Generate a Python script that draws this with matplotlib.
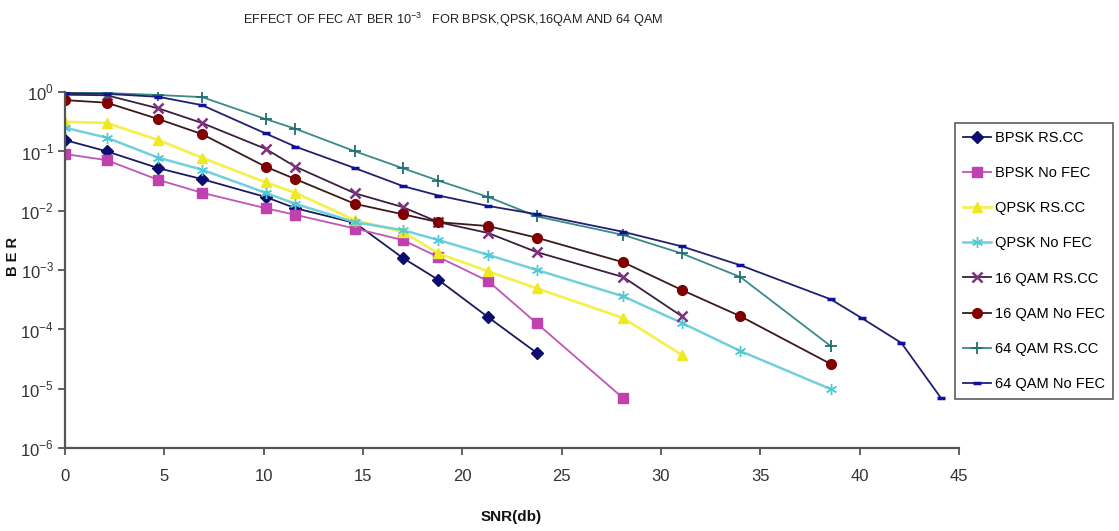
import math
import matplotlib
matplotlib.use('Agg')
import matplotlib.pyplot as plt
from matplotlib.ticker import FixedLocator, NullLocator, FuncFormatter

# ---------------- data ----------------
snr = [0, 2.1, 4.7, 6.9, 10.1, 11.6, 14.6, 17.0, 18.8, 21.3, 23.75,
       28.1, 31.05, 34.0, 38.55, 40.1, 42.1, 44.1]

bpsk_rscc = [0.155, 0.10, 0.052, 0.034, 0.017, 0.011, 0.0062, 0.0016,
             0.00068, 0.00016, 4.0e-5]
bpsk_nofec = [0.09, 0.071, 0.033, 0.020, 0.011, 0.0085, 0.005, 0.0032,
              0.00165, 0.00065, 0.000126, 6.9e-6]
qpsk_rscc = [0.315, 0.30, 0.155, 0.078, 0.030, 0.020, 0.0069, 0.0044,
             0.0019, 0.00095, 0.00049, 0.000155, 3.7e-5]
qpsk_nofec = [0.25, 0.17, 0.078, 0.049, 0.020, 0.013, 0.0064, 0.0047,
              0.0032, 0.0018, 0.0010, 0.00036, 0.000128, 4.3e-5, 9.8e-6]
qam16_rscc = [0.90, 0.88, 0.53, 0.30, 0.11, 0.055, 0.0196, 0.0115,
              0.0064, 0.0042, 0.0020, 0.00076, 0.000166]
qam16_nofec = [0.73, 0.66, 0.35, 0.195, 0.055, 0.034, 0.013, 0.0087,
               0.0064, 0.0055, 0.0035, 0.00135, 0.00046, 0.000166, 2.6e-5]
qam64_rscc = [0.97, 0.96, 0.89, 0.82, 0.35, 0.24, 0.10, 0.052, 0.032,
              0.017, 0.0080, 0.0039, 0.0019, 0.00076, 5.2e-5]
qam64_nofec = [0.95, 0.93, 0.83, 0.60, 0.20, 0.12, 0.052, 0.026, 0.018,
               0.012, 0.0087, 0.0044, 0.0025, 0.0012, 0.00032, 0.000155,
               5.9e-5, 6.9e-6]

labels = ['BPSK RS.CC', 'BPSK No FEC', 'QPSK RS.CC', 'QPSK No FEC',
          '16 QAM RS.CC', '16 QAM No FEC', '64 QAM RS.CC', '64 QAM No FEC']
x_ticks = [0, 5, 10, 15, 20, 25, 30, 35, 40, 45]
y_exps = [0, -1, -2, -3, -4, -5, -6]

series = [bpsk_rscc, bpsk_nofec, qpsk_rscc, qpsk_nofec,
          qam16_rscc, qam16_nofec, qam64_rscc, qam64_nofec]

styles = [
    dict(color='#1a1a5e', marker='D', ms=6, mfc='#0d0d70', mec='#0d0d70'),
    dict(color='#c055b5', marker='s', ms=6.5, mfc='#c040b0', mec='#c040b0'),
    dict(color='#f5f050', marker='^', ms=7, mfc='#f0e820', mec='#f0e820', lw=2.0),
    dict(color='#70d0dc', marker=(6, 2, 0), ms=8, mfc='#50c8d8', mec='#50c8d8', lw=1.8),
    dict(color='#3a2040', marker='x', ms=6.5, mfc='#803080', mec='#803080', mew=1.8),
    dict(color='#3a1a1a', marker='o', ms=7, mfc='#800000', mec='#800000'),
    dict(color='#3a8a8a', marker='+', ms=9, mfc='#207070', mec='#207070', mew=1.3),
    dict(color='#202070', marker='_', ms=6, mfc='#1010a0', mec='#1010a0', mew=2.5),
]

# ---------------- figure ----------------
plt.rcParams['font.family'] = ['Liberation Sans', 'DejaVu Sans']
plt.rcParams['mathtext.fontset'] = 'custom'
plt.rcParams['mathtext.rm'] = 'Liberation Sans'

fig = plt.figure(figsize=(11.19, 5.31), dpi=100)
ax = fig.add_axes([65 / 1119, 1 - 448 / 531, (959 - 65) / 1119, (448 - 92) / 531])

for vals, lab, st in zip(series, labels, styles):
    st = dict(st)
    lw = st.pop('lw', 1.3)
    ax.plot(snr[:len(vals)], vals, label=lab, lw=lw, **st)

ax.set_yscale('log')
ax.set_xlim(0, 45)
ax.set_ylim(1e-6, 1)
ax.xaxis.set_major_locator(FixedLocator(x_ticks))
ax.yaxis.set_major_locator(FixedLocator([10.0 ** e for e in y_exps]))
ax.yaxis.set_minor_locator(NullLocator())
ax.yaxis.set_major_formatter(FuncFormatter(
    lambda v, p: r'$10^{%d}$' % round(math.log10(v))))

for s in ['top', 'right']:
    ax.spines[s].set_visible(False)
for s in ['left', 'bottom']:
    ax.spines[s].set_color('#555555')
    ax.spines[s].set_linewidth(1.6)
ax.tick_params(axis='both', colors='#555555', labelcolor='#333333',
               labelsize=12, length=5, width=1.3, direction='out')
ax.tick_params(axis='x', pad=10)
ax.tick_params(axis='y', pad=3)

fig.text(453 / 1119, 1 - 20 / 531,
         r'EFFECT OF FEC AT BER $10^{-3}$   FOR BPSK,QPSK,16QAM AND 64 QAM',
         ha='center', va='center', fontsize=9.2, color='#222222')
fig.text(511 / 1119, 1 - 517 / 531, 'SNR(db)', ha='center', va='center',
         fontsize=11, fontweight='bold', color='#111111')
fig.text(13 / 1119, 1 - 257 / 531, 'B E R', ha='center', va='center',
         rotation=90, fontsize=10.5, fontweight='bold', color='#111111')

leg = ax.legend(loc='upper left', bbox_to_anchor=(955 / 1119, 1 - 123 / 531),
                bbox_transform=fig.transFigure, frameon=True, fancybox=False,
                fontsize=10.5, labelspacing=1.45, handlelength=1.9,
                handletextpad=0.3, borderpad=0.55, borderaxespad=0)
leg.get_frame().set_edgecolor('#333333')
leg.get_frame().set_linewidth(1.2)

fig.savefig('out.png', dpi=100, facecolor='white')
